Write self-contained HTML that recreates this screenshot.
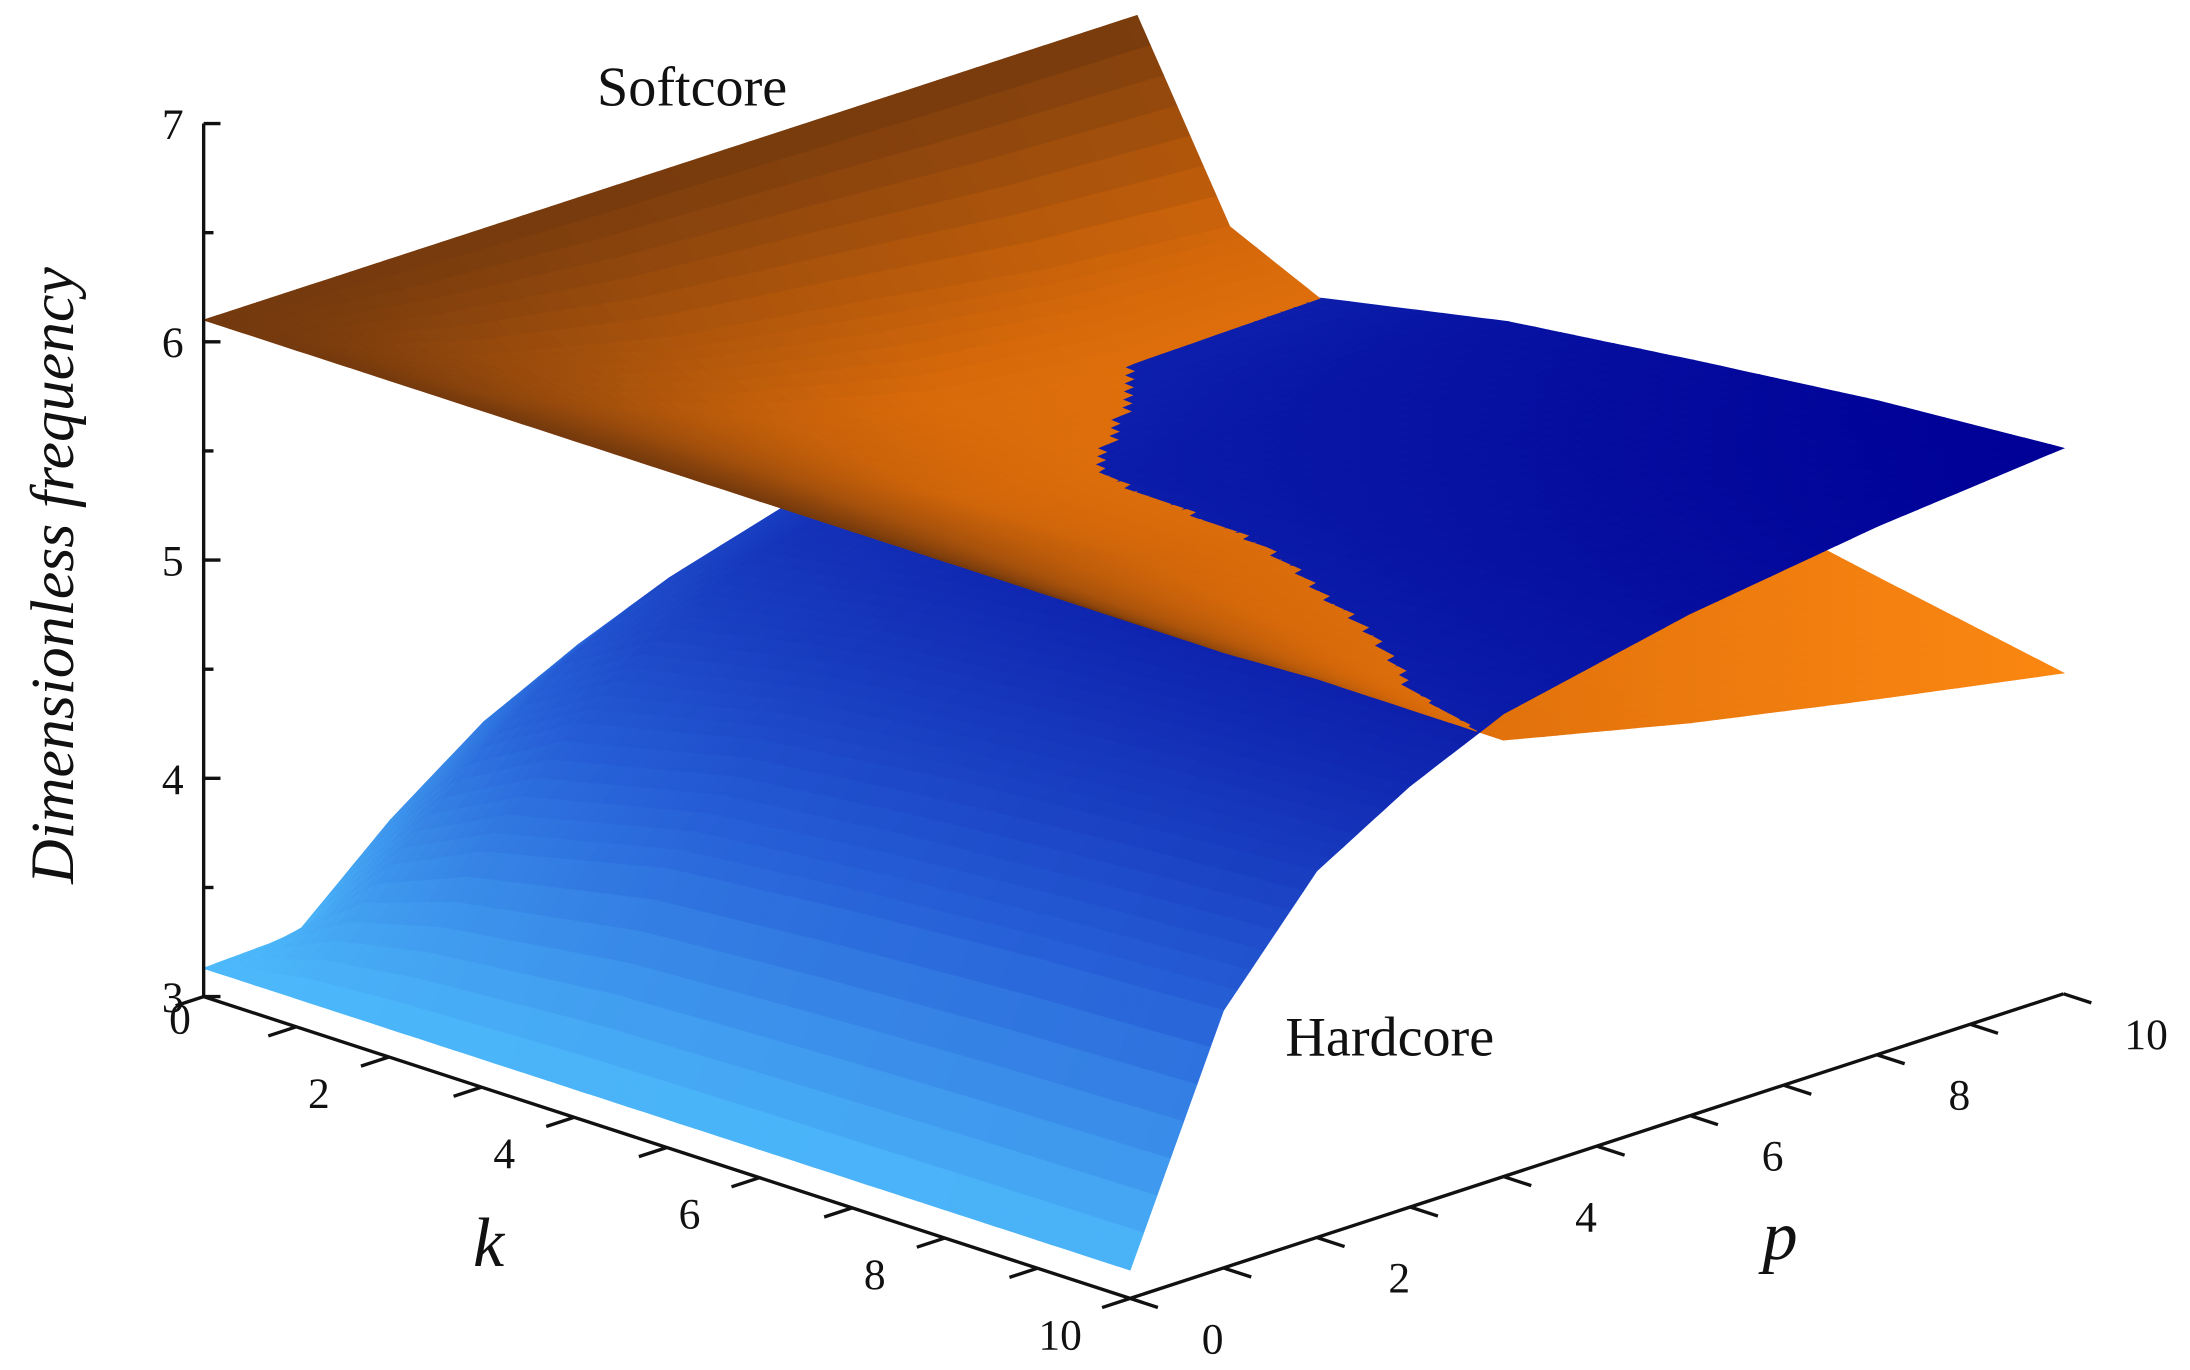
<!DOCTYPE html>
<html>
<head>
<meta charset="utf-8">
<style>
  html,body{margin:0;padding:0;background:#fff;}
  svg{display:block;}
  text{font-family:"Liberation Serif",serif;fill:#111;}
</style>
</head>
<body>
<svg id="chart" width="2190" height="1370" viewBox="0 0 1560 976" xmlns="http://www.w3.org/2000/svg">
  <g id="surfaces"></g>
  <g id="axes"></g>
  <text x="493" y="75" font-size="40" text-anchor="middle">Softcore</text>
  <text x="990" y="752" font-size="40" text-anchor="middle">Hardcore</text>
  <text x="0" y="0" font-size="44" font-style="italic" text-anchor="middle" transform="translate(52,410) rotate(-90)">Dimensionless frequency</text>
  <text x="348" y="902" font-size="50" font-style="italic" text-anchor="middle">k</text>
  <text x="1268" y="897" font-size="50" font-style="italic" text-anchor="middle">p</text>
</svg>
<script>
const kVals = [0, 1, 2, 4, 6, 8, 10];
const pVals = [0, 1, 2, 3, 4, 6, 8, 10];
const hardcore = [
  [3.13, 3.15, 3.53, 3.84, 4.05, 4.25, 4.35, 4.45],
  [3.13, 3.60, 4.00, 4.30, 4.50, 4.75, 4.90, 5.00],
  [3.13, 3.80, 4.25, 4.55, 4.75, 4.98, 5.06, 5.08],
  [3.13, 4.00, 4.45, 4.72, 4.90, 5.12, 5.19, 5.25],
  [3.13, 4.08, 4.55, 4.80, 5.00, 5.18, 5.28, 5.35],
  [3.13, 4.14, 4.62, 4.88, 5.06, 5.25, 5.36, 5.44],
  [3.13, 4.18, 4.68, 4.93, 5.12, 5.30, 5.42, 5.50]
];
const softcore = [
  [6.10, 6.10, 6.10, 6.10, 6.10, 6.10, 6.10, 6.10],
  [6.10, 5.95, 5.80, 5.70, 5.60, 5.48, 5.35, 5.27],
  [6.10, 5.90, 5.72, 5.54, 5.38, 5.15, 5.06, 5.07],
  [6.10, 5.90, 5.68, 5.48, 5.28, 5.08, 5.00, 4.96],
  [6.10, 5.88, 5.65, 5.45, 5.28, 5.07, 4.92, 4.80],
  [6.10, 5.85, 5.60, 5.38, 5.18, 4.97, 4.80, 4.63],
  [6.10, 5.82, 5.56, 5.28, 5.00, 4.80, 4.63, 4.47]
];
const zTicks = [3, 4, 5, 6, 7];
const kTicks = [0, 2, 4, 6, 8, 10];
const pTicks = [0, 2, 4, 6, 8, 10];

const NS = "http://www.w3.org/2000/svg";
function X(k, p) { return 145 + 66 * k + 66.5 * p; }
function Y(k, p, z) { return 710 + 21.5 * k - 21.7 * p - 155.5 * (z - 3); }

function seg(arr, v) {
  for (let i = 0; i < arr.length - 1; i++) if (v <= arr[i + 1]) return i;
  return arr.length - 2;
}
function interp(grid, k, p) {
  const i = seg(kVals, k), j = seg(pVals, p);
  const tk = (k - kVals[i]) / (kVals[i + 1] - kVals[i]);
  const tp = (p - pVals[j]) / (pVals[j + 1] - pVals[j]);
  const a = grid[i][j], b = grid[i][j + 1], c = grid[i + 1][j], d = grid[i + 1][j + 1];
  return (a * (1 - tp) + b * tp) * (1 - tk) + (c * (1 - tp) + d * tp) * tk;
}
function lerpC(stops, t) {
  t = Math.max(0, Math.min(1, t));
  for (let i = 0; i < stops.length - 1; i++) {
    const [t0, c0] = stops[i], [t1, c1] = stops[i + 1];
    if (t <= t1) {
      const u = (t - t0) / (t1 - t0);
      return "rgb(" + c0.map((v, n) => Math.round(v + (c1[n] - v) * u)).join(",") + ")";
    }
  }
  return "rgb(" + stops[stops.length - 1][1].join(",") + ")";
}
function orangeColor(z) {
  return lerpC([[0, [255, 138, 18]], [0.45, [215, 105, 10]], [1, [105, 52, 14]]], (z - 4.4) / (6.2 - 4.4));
}
function blueColor(z) {
  return lerpC([[0, [78, 188, 252]], [0.45, [38, 95, 215]], [1, [0, 0, 150]]], (z - 3.1) / (5.5 - 3.1));
}

const quads = [];
const N = 70;
function addSurface(grid, colorFn, name) {
  for (let a = 0; a < N; a++) for (let b = 0; b < N; b++) {
    const k0 = 10 * a / N, k1 = 10 * (a + 1) / N, p0 = 10 * b / N, p1 = 10 * (b + 1) / N;
    const c = [[k0, p0], [k1, p0], [k1, p1], [k0, p1]].map(([k, p]) => [k, p, interp(grid, k, p)]);
    const zc = (c[0][2] + c[1][2] + c[2][2] + c[3][2]) / 4;
    const kc = (k0 + k1) / 2, pc = (p0 + p1) / 2;
    quads.push({ c, depth: kc - pc + 0.277 * zc, color: colorFn(zc), name });
  }
}
addSurface(hardcore, blueColor, "hardcore-cell");
addSurface(softcore, orangeColor, "softcore-cell");
quads.sort((u, v) => u.depth - v.depth);
const gS = document.getElementById("surfaces");
for (const q of quads) {
  const el = document.createElementNS(NS, "polygon");
  el.setAttribute("points", q.c.map(([k, p, z]) => X(k, p).toFixed(1) + "," + Y(k, p, z).toFixed(1)).join(" "));
  el.setAttribute("fill", q.color);
  el.setAttribute("stroke", q.color);
  el.setAttribute("stroke-width", "0.7");
  
  
  gS.appendChild(el);
}

const gA = document.getElementById("axes");
function line(x1, y1, x2, y2, name, w) {
  const el = document.createElementNS(NS, "line");
  el.setAttribute("x1", x1); el.setAttribute("y1", y1);
  el.setAttribute("x2", x2); el.setAttribute("y2", y2);
  el.setAttribute("stroke", "#111"); el.setAttribute("stroke-width", w || 2.4);
  
  
  gA.appendChild(el);
}
function label(x, y, s, name) {
  const el = document.createElementNS(NS, "text");
  el.setAttribute("x", x); el.setAttribute("y", y);
  el.setAttribute("font-size", "31");
  el.setAttribute("text-anchor", "middle");
  el.textContent = s;
  
  
  gA.appendChild(el);
}
// z axis
line(X(0, 0), Y(0, 0, 7), X(0, 0), Y(0, 0, 3), "z-axis-line");
for (let z = 3; z <= 7.001; z += 0.5) {
  const major = Math.abs(z - Math.round(z)) < 1e-6;
  line(X(0, 0), Y(0, 0, z), X(0, 0) + (major ? 12 : 7), Y(0, 0, z), "z-tick");
}
zTicks.forEach(z => label(X(0, 0) - 22, Y(0, 0, z) + 11, String(z), "z-tick-label"));
// k axis
line(X(0, 0), Y(0, 0, 3), X(10, 0), Y(10, 0, 3), "k-axis-line");
for (let k = 0; k <= 10; k++) line(X(k, 0), Y(k, 0, 3), X(k, -0.3), Y(k, -0.3, 3), "k-tick");
kTicks.forEach(k => label(X(k, -0.75) + (k === 0 ? 33 : 0), Y(k, -0.75, 3) + (k === 0 ? 10 : 20), String(k), "k-tick-label"));
// p axis
line(X(10, 0), Y(10, 0, 3), X(10, 10), Y(10, 10, 3), "p-axis-line");
for (let p = 0; p <= 10; p++) line(X(10, p), Y(10, p, 3), X(10.3, p), Y(10.3, p, 3), "p-tick");
pTicks.forEach(p => label(X(10.8, p) + 6, Y(10.8, p, 3) + 22, String(p), "p-tick-label"));
</script>
</body>
</html>
